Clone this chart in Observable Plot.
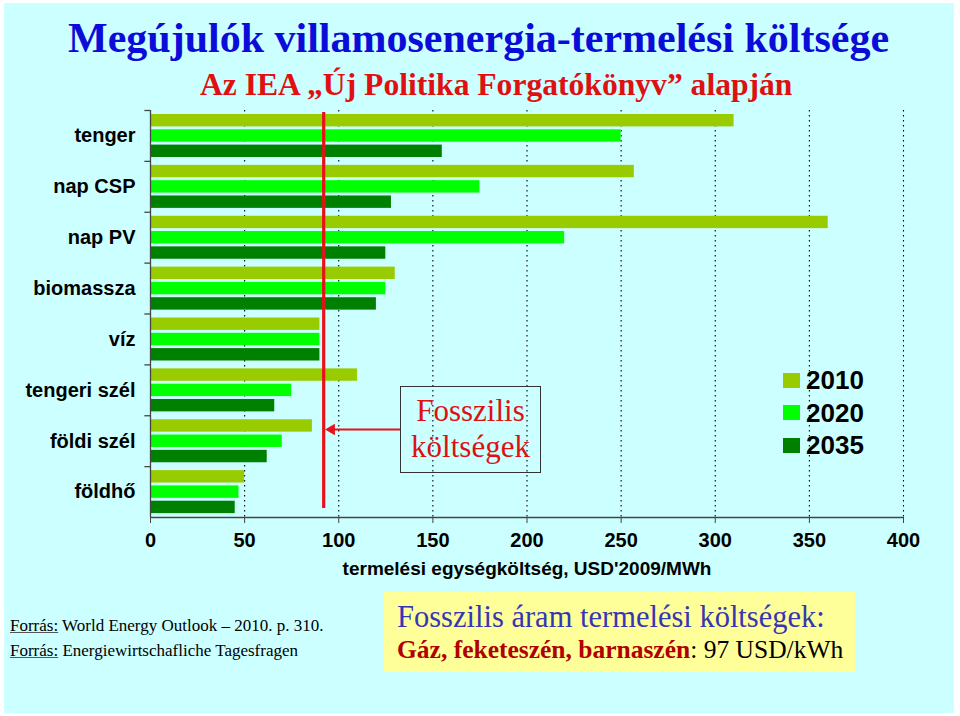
<!DOCTYPE html>
<html><head><meta charset="utf-8">
<script src="https://cdn.jsdelivr.net/npm/d3@7"></script>
<script src="https://cdn.jsdelivr.net/npm/@observablehq/plot@0.6"></script>
<style>
body{margin:0;background:#fff;}
#page{position:relative;width:960px;height:716px;overflow:hidden;background:#fff;}
#bg{position:absolute;left:4px;top:3px;width:950px;height:710px;background:#ccffff;}
.abs{position:absolute;white-space:nowrap;}
.serif{font-family:"Liberation Serif","Times New Roman",serif;}
.sans{font-family:"Liberation Sans",Arial,sans-serif;}
#title{left:68px;top:17px;font-size:42px;line-height:42px;font-weight:bold;color:#0c0cd8;}
#subtitle{left:200px;top:68.5px;font-size:31.6px;line-height:31.6px;font-weight:bold;color:#e01010;}
#fossilBox{left:400px;top:386px;width:141px;height:87px;box-sizing:border-box;border:1.5px solid #333;color:#dd1111;font-size:31px;line-height:36px;text-align:center;padding-top:6px;}
#legend{left:783px;top:364px;}
.lrow{display:flex;align-items:center;height:32.5px;}
.sw{width:17px;height:15px;margin-right:6px;}
.lt{font-size:26px;line-height:26px;font-weight:bold;color:#000;}
#yellow{left:384px;top:592px;width:471px;height:80px;background:#ffff99;}
#y1{left:397px;top:602px;font-size:30.5px;line-height:30.5px;color:#3636b4;}
#y2{left:397px;top:637px;font-size:25.5px;line-height:25.5px;color:#000;}
#y2 b{color:#b00000;}
.src{left:10px;font-size:17px;line-height:17px;color:#000;}
.src u{text-decoration-color:#555;}
</style></head>
<body>
<div id="page">
  <div id="bg"></div>
  <div id="title" class="abs serif">Megújulók villamosenergia-termelési költsége</div>
  <div id="subtitle" class="abs serif">Az IEA „Új Politika Forgatókönyv” alapján</div>
  <div id="chart"></div>
  <div id="fossilBox" class="abs serif">Fosszilis<br>költségek</div>
  <div id="legend" class="abs sans"></div>
  <div class="abs src serif" style="top:616.8px"><u>Forrás:</u> World Energy Outlook – 2010. p. 310.</div>
  <div class="abs src serif" style="top:641.8px"><u>Forrás:</u> Energiewirtschafliche Tagesfragen</div>
  <div id="yellow" class="abs"></div>
  <div id="y1" class="abs serif">Fosszilis áram termelési költségek:</div>
  <div id="y2" class="abs serif"><b>Gáz, feketeszén, barnaszén</b>: 97 USD/kWh</div>
</div>
<script>
// ---- data ----
const categories = ["tenger", "nap CSP", "nap PV", "biomassza", "víz", "tengeri szél", "földi szél", "földhő"];
const seriesNames = ["2010", "2020", "2035"];
const cost2010 = [310, 257, 360, 130, 90, 110, 86, 50];
const cost2020 = [250, 175, 220, 125, 90, 75, 70, 47];
const cost2035 = [155, 128, 125, 120, 90, 66, 62, 45];
const xTicks = [0, 50, 100, 150, 200, 250, 300, 350, 400];
const fossilCost = 92;
const arrowStart = 133;
const seriesColors = ["#99cc00", "#00ff00", "#008000"];
const xLabel = "termelési egységköltség, USD'2009/MWh";

const rows = categories.map((c, i) => ({category: c, v2010: cost2010[i], v2020: cost2020[i], v2035: cost2035[i]}));
const seriesKeys = ["v2010", "v2020", "v2035"];

const W = 960, H = 600, mt = 110, mb = 83, ml = 150, mr = 57;
const bw = (H - mt - mb) / categories.length;
const barH = 12.4, pitch = 15.3, top0 = 4;

const barMarks = seriesKeys.map((k, s) => Plot.barX(rows, {
  x: k, y: "category", fill: seriesColors[s],
  insetTop: top0 + s * pitch,
  insetBottom: bw - (top0 + s * pitch + barH)
}));

const red = "#e8101a";
const chart = Plot.plot({
  width: W, height: H,
  marginTop: mt, marginBottom: mb, marginLeft: ml, marginRight: mr,
  style: {background: "transparent", fontFamily: "'Liberation Sans', Arial, sans-serif", color: "#000", overflow: "visible"},
  x: {domain: [0, 400]},
  y: {domain: categories, padding: 0, round: false},
  marks: [
    Plot.ruleX(xTicks.slice(1), {stroke: "#000", strokeDasharray: "1.5,3.5", strokeWidth: 1.1}),
    ...barMarks,
    Plot.ruleX([0], {stroke: "#444", strokeWidth: 1.3}),
    Plot.ruleY(categories, {x1: -3, x2: 0, dy: -bw / 2, stroke: "#444", strokeWidth: 1.3}),
    Plot.ruleY([categories[categories.length - 1]], {x1: 0, x2: 400, dy: bw / 2, stroke: "#444", strokeWidth: 1.3}),
    Plot.ruleX([fossilCost], {stroke: red, strokeWidth: 3.2, insetTop: 2, insetBottom: 9}),
    Plot.ruleY(["földi szél"], {x1: arrowStart, x2: fossilCost + 3, dy: -11.7, stroke: red, strokeWidth: 2}),
    Plot.dot(["földi szél"], {x: fossilCost + 4.2, y: d => d, dy: -11.7, symbol: "triangle", rotate: -90, r: 4.2, fill: red, stroke: "none"}),
    Plot.axisX(xTicks, {tickSize: 6, tickPadding: 9, fontSize: 20, fontWeight: "bold", stroke: "#444", label: null}),
    Plot.axisY({tickSize: 0, tickPadding: 15, fontSize: 20, fontWeight: "bold", label: null}),
    Plot.text([xLabel], {text: d => d, frameAnchor: "bottom", dy: 57, fontSize: 19, fontWeight: "bold", fill: "#000"})
  ]
});
chart.style.position = "absolute";
chart.style.left = "0px";
chart.style.top = "0px";
document.getElementById("chart").appendChild(chart);

const legend = d3.select("#legend");
seriesNames.forEach((n, i) => {
  const r = legend.append("div").attr("class", "lrow");
  r.append("div").attr("class", "sw").style("background", seriesColors[i]);
  r.append("div").attr("class", "lt").text(n);
});
</script>
</body></html>
